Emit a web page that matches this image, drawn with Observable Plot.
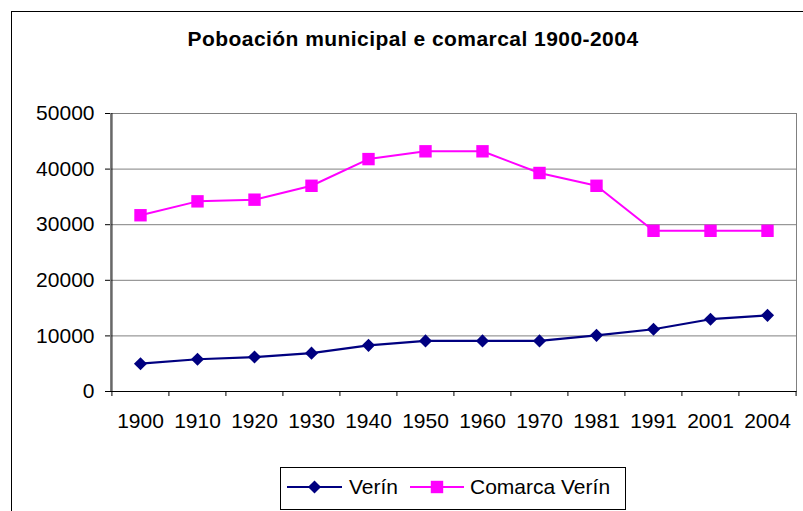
<!DOCTYPE html>
<html>
<head>
<meta charset="utf-8">
<script src="https://cdn.jsdelivr.net/npm/d3@7"></script>
<script src="https://cdn.jsdelivr.net/npm/@observablehq/plot@0.6"></script>
<style>
  html, body { margin: 0; padding: 0; background: #fff; }
  #wrap { position: relative; width: 803px; height: 511px; overflow: hidden; }
  #wrap svg { position: absolute; left: 0; top: 0; }
</style>
</head>
<body>
<div id="wrap"></div>
<script>
// ---- data ----
const years = ["1900","1910","1920","1930","1940","1950","1960","1970","1981","1991","2001","2004"];
const verin = [5000, 5800, 6200, 6900, 8300, 9100, 9100, 9100, 10100, 11200, 13000, 13700];
const comarca = [31700, 34200, 34500, 37000, 41800, 43200, 43200, 39300, 37000, 28900, 28900, 28900];
const yTicks = [0, 10000, 20000, 30000, 40000, 50000];
const seriesNames = ["Verín", "Comarca Verín"];
const title = "Poboación municipal e comarcal 1900-2004";

const rows = [];
years.forEach((y, i) => {
  rows.push({year: y, value: verin[i], series: seriesNames[0]});
  rows.push({year: y, value: comarca[i], series: seriesNames[1]});
});
const rowsV = rows.filter(d => d.series === seriesNames[0]);
const rowsC = rows.filter(d => d.series === seriesNames[1]);

const W = 803, H = 511;
const mL = 110, mR = 7, mT = 113, mB = 120;
const step = (W - mL - mR) / years.length;
const font = "'Liberation Sans', Arial, sans-serif";
const navy = "#000080", magenta = "#FF00FF";
const fs = "21px";

const chart = Plot.plot({
  width: W, height: H,
  marginLeft: mL, marginRight: mR, marginTop: mT, marginBottom: mB,
  style: {fontFamily: font, fontSize: fs, background: "transparent", color: "#000"},
  x: {type: "point", domain: years, padding: 0.5},
  y: {domain: [0, 50000]},
  marks: [
    Plot.frame({stroke: "#808080"}),
    Plot.gridY(yTicks.filter(d => d > 0), {stroke: "#808080", strokeOpacity: 1, strokeWidth: 1}),
    Plot.axisY({ticks: yTicks, tickSize: 5, tickPadding: 11, tickFormat: d => String(d), fontSize: fs, label: null}),
    Plot.axisX({tickSize: 0, tickPadding: 22, fontSize: fs, label: null}),
    // x ticks at category boundaries
    Plot.ruleX(years, {x: d => d, y1: 0, y2: 0, dx: -step / 2, insetBottom: -5, stroke: "#000"}),
    Plot.ruleX(years.slice(-1), {x: d => d, y1: 0, y2: 0, dx: step / 2, insetBottom: -5, stroke: "#000"}),
    // axis lines
    Plot.ruleX(years.slice(0, 1), {x: d => d, dx: -step / 2, stroke: "#000"}),
    Plot.ruleY([0], {stroke: "#000"}),
    // series
    Plot.line(rowsC, {x: "year", y: "value", stroke: magenta, strokeWidth: 2}),
    Plot.dot(rowsC, {x: "year", y: "value", symbol: "square", r: 7, fill: magenta, stroke: "none"}),
    Plot.line(rowsV, {x: "year", y: "value", stroke: navy, strokeWidth: 2.2}),
    Plot.dot(rowsV, {x: "year", y: "value", symbol: "diamond2", r: 5.9, fill: navy, stroke: "none"})
  ]
});
document.getElementById("wrap").appendChild(chart);

// ---- overlay: border, title, legend ----
const svg = d3.select("#wrap").append("svg")
  .attr("width", W).attr("height", H)
  .style("pointer-events", "none")
  .style("font-family", font);

svg.append("rect").attr("x", 11.5).attr("y", 11.5).attr("width", W + 20).attr("height", H + 20)
  .attr("fill", "none").attr("stroke", "#000");

svg.append("text").attr("x", 413).attr("y", 46).attr("text-anchor", "middle")
  .attr("font-size", fs).attr("font-weight", "bold").attr("letter-spacing", "0.45px").text(title);

const lg = svg.append("g");
lg.append("rect").attr("x", 280.5).attr("y", 467.5).attr("width", 345).attr("height", 42)
  .attr("fill", "#fff").attr("stroke", "#000");
const items = [
  {name: seriesNames[0], color: navy, sym: d3.symbolDiamond2, r: 5.9, x0: 287, x1: 342, tx: 349},
  {name: seriesNames[1], color: magenta, sym: d3.symbolSquare, r: 7, x0: 410, x1: 464, tx: 470}
];
items.forEach(it => {
  const ly = 487;
  lg.append("line").attr("x1", it.x0).attr("x2", it.x1).attr("y1", ly).attr("y2", ly)
    .attr("stroke", it.color).attr("stroke-width", 2);
  lg.append("path").attr("d", d3.symbol(it.sym, Math.PI * it.r * it.r)())
    .attr("transform", `translate(${(it.x0 + it.x1) / 2},${ly})`).attr("fill", it.color);
  lg.append("text").attr("x", it.tx).attr("y", 494).attr("font-size", fs).text(it.name);
});
</script>
</body>
</html>
